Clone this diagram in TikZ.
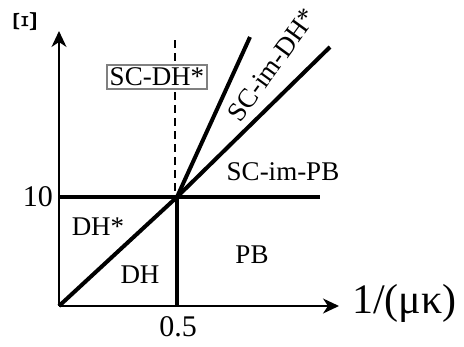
\documentclass[tikz,border=0pt]{standalone}
\usepackage{fontspec}
\setmainfont{Liberation Serif}
\usetikzlibrary{arrows.meta}
\begin{document}
\begin{tikzpicture}[x=1pt,y=-1pt,
  axis/.style={line width=1.8pt,-{Stealth[length=16pt,width=15pt,inset=5pt]}},
  bound/.style={line width=4pt},
  lbl/.style={font=\fontsize{27}{27}\selectfont,inner sep=0pt},
  ticklbl/.style={font=\fontsize{30}{30}\selectfont,inner sep=0pt}]
\useasboundingbox (0,0) rectangle (464,346);
\coordinate (O) at (59,306);
\coordinate (ytip) at (59,31);
\coordinate (xtip) at (339,306);
\coordinate (P) at (177,197);
\coordinate (hend) at (320,197);
\coordinate (vbot) at (177,306);
\coordinate (dtop) at (175,40);
\coordinate (dbot) at (175,197);
\coordinate (l1) at (330,47);
\coordinate (l2) at (250,37);
\draw[axis] (O) -- (ytip);
\draw[axis] (O) -- (xtip);
\draw[line width=1.4pt,dash pattern=on 8pt off 5pt] (dtop) -- (dbot);
\draw[bound] (O) -- (P) -- (l1);
\draw[bound] (P) -- (l2);
\draw[bound] (O |- P) -- (hend);
\draw[bound] (P) -- (vbot);
\node[inner sep=0pt,rotate=90,font=\fontsize{34}{34}\selectfont] (xi) at (25,22) {Ξ};
\node[ticklbl,anchor=east] (ten) at (53,197) {10};
\node[ticklbl] (half) at (178,327) {0.5};
\node[font=\fontsize{42}{42}\selectfont,inner sep=0pt,anchor=west] (xl) at (352,303) {1/(μκ)};
\node[lbl,draw=gray,line width=1.6pt,inner sep=3pt,fill=white] (scdh) at (157,77) {SC-DH*};
\node[lbl,rotate=54] (scimdh) at (272,65) {SC-im-DH*};
\node[lbl] (scimpb) at (283,172) {SC-im-PB};
\node[lbl] (pb) at (252,255) {PB};
\node[lbl] (dhs) at (98,227) {DH*};
\node[lbl] (dh) at (140,275) {DH};
\end{tikzpicture}
\end{document}
